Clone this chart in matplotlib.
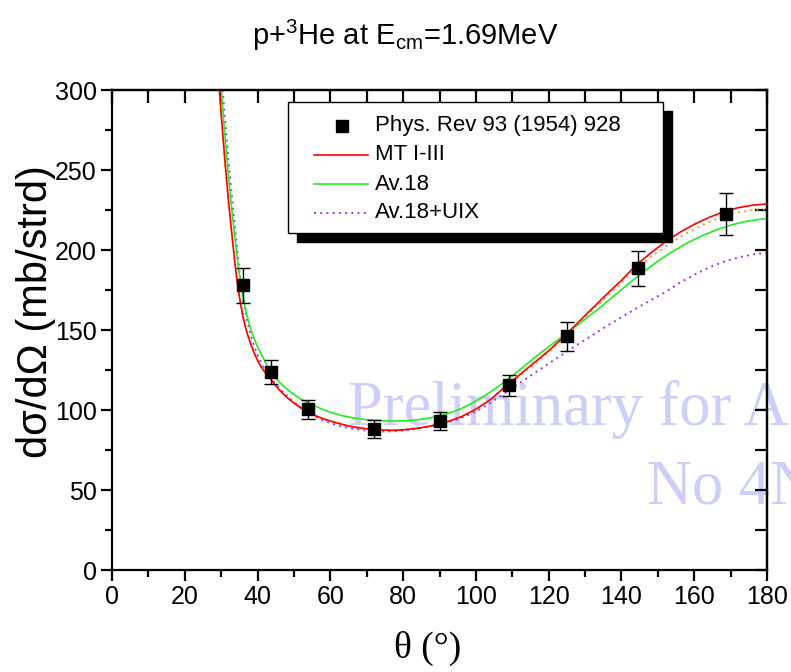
import matplotlib
matplotlib.use("Agg")
import matplotlib.pyplot as plt
from matplotlib.patches import Rectangle

# ---------------- data ----------------
exp_theta = [36, 43.7, 53.9, 72, 90, 109, 125, 144.5, 168.7]
exp_val   = [178, 124, 100.5, 88, 93, 115.5, 146, 188.5, 222.5]
exp_err   = [11, 7.5, 6, 5.5, 5.5, 6.5, 9, 11, 13]

# MT I-III
mt_theta = [29.5, 30, 31, 32, 33, 33.3, 34, 34.6, 35, 36, 37, 38, 39, 40, 41, 42, 43, 44,
            46, 48, 50, 52, 54, 56, 58, 60, 62, 65, 68, 71, 74, 77, 80, 84, 88, 92, 96,
            100, 104, 108, 112, 116, 120, 124, 128, 132, 136, 140, 144, 148, 152, 156,
            160, 164, 168, 172, 176, 180]
mt_val   = [300, 285, 256.5, 231, 208.5, 202, 187.5, 177, 171, 158, 149, 142, 136, 131,
            127, 123.8, 121, 118, 112.5, 108, 104.3, 101.2, 98.6, 96.4, 94.6, 93.1, 91.8,
            90, 88.8, 88, 87.5, 87.3, 87.6, 88.6, 90.2, 92.5, 95.8, 100.5, 106.5, 114.5,
            122, 129.5, 137, 145.5, 154.5, 163.5, 172.5, 181, 190.5, 198, 205, 211, 216,
            220.3, 223.8, 226.4, 228, 228.8]

# Av.18
av_theta = [30, 30.5, 31, 32, 33, 33.8, 34.5, 35, 36, 37, 38, 39, 40, 41, 42, 43, 44, 45,
            46, 47, 48, 50, 52, 54, 56, 58, 60, 63, 66, 69, 72, 75, 78, 81, 84, 87, 90,
            93, 96, 99, 102, 105, 108, 111, 114, 117, 120, 123, 126, 130, 134, 138, 142,
            146, 150, 154, 158, 162, 166, 170, 174, 178, 180]
av_val   = [300, 286, 272, 246, 223.5, 207, 193.5, 185, 171, 160, 151.5, 145, 139.5, 134.8,
            130.6, 125.5, 122.5, 119.8, 117.4, 115.2, 113.2, 109.7, 106.7, 104.2, 102.3,
            100.3, 98.6, 96.6, 95.2, 94.2, 93.6, 93.2, 93.1, 93.3, 93.9, 94.9, 96.3, 98.2,
            100.9, 104.3, 108.3, 112.8, 117.8, 123.2, 128.8, 134.3, 139.5, 144.6, 149.8,
            156.7, 163.8, 171.5, 179, 186.3, 193, 199, 204.3, 208.8, 212.5, 215.5, 217.8,
            219.2, 219.6]

# Av.18+UIX
uix_theta = [30.4, 31, 32, 33, 34, 34.6, 35.2, 36, 37, 38, 39, 40, 41, 42, 43, 44, 45, 46,
             47, 48, 50, 52, 54, 56, 58, 60, 63, 66, 69, 72, 75, 78, 81, 84, 87, 90, 93,
             96, 100, 104, 108, 112, 116, 120, 124, 128, 132, 136, 140, 144, 148, 152,
             156, 160, 164, 168, 172, 176, 180]
uix_val   = [300, 283, 256, 232, 209, 196, 183, 170, 157.5, 148, 140.5, 134.5, 129.5,
             125.5, 122, 119, 116.2, 113.6, 111.2, 109, 104.8, 101.2, 98.2, 95.6, 93.5,
             91.8, 89.8, 88.3, 87.3, 86.8, 86.6, 86.8, 87.4, 88.3, 89.5, 91, 92.8, 95, 99,
             104.5, 110.5, 116.8, 122.9, 129, 135, 141, 146.8, 152.5, 158, 163.4, 168.6,
             173.6, 179.5, 184.5, 189, 192.6, 195.3, 197.2, 198.3]

# unlabelled orange dotted curve
org_theta = [29.5, 30, 31, 32, 33, 33.3, 34, 34.6, 35, 36, 37, 38, 39, 40, 41, 42, 43, 44,
             46, 48, 50, 52, 54, 56, 58, 60, 62, 65, 68, 71, 74, 77, 80, 84, 88, 92, 96,
             100, 104, 108, 112, 116, 120, 124, 128, 132, 136, 140, 144, 148, 152, 156,
             160, 164, 168, 172, 176, 180]
org_val   = [300, 285, 256.5, 231, 208.5, 202, 187.5, 177, 171, 158, 149, 142, 136, 131,
             127, 123.8, 121, 118, 112.5, 108, 104.3, 101.2, 98.6, 96.4, 94.6, 93.1, 91.8,
             90, 88.8, 88, 87.5, 87.3, 87.6, 88.6, 90.2, 92.5, 95.8, 100.5, 106.5, 114,
             121, 128.5, 136, 144.5, 153.5, 162.5, 171, 179.5, 188.5, 195.5, 202, 208, 213,
             217.3, 221.2, 223.5, 225, 225.6]

legend_labels = ["Phys. Rev 93 (1954) 928", "MT I-III", "Av.18", "Av.18+UIX"]
title_text = r"p+$^{\mathrm{3}}$He at E$_{\mathrm{cm}}$=1.69MeV"
xlabel_text = "θ (°)"
ylabel_text = "dσ/dΩ (mb/strd)"

# ---------------- style ----------------
plt.rcParams["font.family"] = ["Liberation Sans", "DejaVu Sans"]
plt.rcParams["mathtext.fontset"] = "custom"
plt.rcParams["mathtext.rm"] = "Liberation Sans"
plt.rcParams["mathtext.it"] = "Liberation Sans:italic"

RED = "#ff0000"
GREEN = "#22ee22"
PURPLE = "#9933ff"
ORANGE = "#ff9933"

fig = plt.figure(figsize=(7.91, 6.72), dpi=100)
ax = fig.add_axes([112/791, 1-570/672, 655/791, 480/672])
ax.set_facecolor("none")

# watermark (behind the axes)
wm_color = "#ccd0f8"
fig.text(348/791, 1-425/672, "Preliminary for A", family="Liberation Serif",
         fontsize=45, color=wm_color, zorder=-1, va="baseline", ha="left")
fig.text(647/791, 1-503/672, "No 4N", family="Liberation Serif",
         fontsize=45, color=wm_color, zorder=-1, va="baseline", ha="left")

# curves
ax.plot(org_theta, org_val, color=ORANGE, ls=(0, (1, 2.2)), lw=1.4, zorder=2)
ax.plot(uix_theta, uix_val, color=PURPLE, ls=(0, (1, 2.2)), lw=1.4, zorder=2.2)
ax.plot(av_theta, av_val, color=GREEN, lw=1.2, zorder=2.4)
ax.plot(mt_theta, mt_val, color=RED, lw=1.2, zorder=2.6)

# data
ax.errorbar(exp_theta, exp_val, yerr=exp_err, fmt="s", color="black", ms=8.5,
            ecolor="black", elinewidth=1.0, capsize=5, capthick=1.0, zorder=3)

ax.set_xlim(0, 180)
ax.set_ylim(0, 300)
ax.set_xticks(range(0, 181, 20))
ax.set_xticks(range(0, 181, 10), minor=True)
ax.set_yticks(range(0, 301, 50))
ax.set_yticks(range(0, 301, 25), minor=True)
for s in ax.spines.values():
    s.set_linewidth(1.6)
ax.tick_params(axis="both", which="major", direction="out", length=8, width=1.6,
               labelsize=18, pad=3)
ax.tick_params(axis="both", which="minor", direction="out", length=5, width=1.6)

sx = ax.secondary_xaxis("top")
sx.set_xticks(range(0, 181, 10))
sx.tick_params(direction="in", length=9, width=1.6, labeltop=False)
sx.spines["top"].set_linewidth(1.6)
sy = ax.secondary_yaxis("right")
sy.set_yticks(range(0, 301, 25))
sy.tick_params(direction="in", length=9, width=1.6, labelright=False)
sy.spines["right"].set_linewidth(1.6)

ax.set_xlabel(xlabel_text, family="Liberation Serif", fontsize=27, va="top")
ax.xaxis.set_label_coords((428 - 112) / 655, (570 - 631) / 480)
ax.set_ylabel(ylabel_text, fontsize=30)
ax.yaxis.set_label_coords((56 - 112) / 655, (570 - 312) / 480)
fig.text(405/791, 1-35/672, title_text, fontsize=21, ha="center", va="center")

# legend (frame with solid offset shadow)
def ax_x(px):
    return (px - 112) / 655
def ax_y(py):
    return (570 - py) / 480

lx0, lx1, ly0, ly1 = ax_x(288), ax_x(663), ax_y(233), ax_y(102)
dx, dy = 9 / 655, 9 / 480
ax.add_patch(Rectangle((lx0 + dx, ly0 - dy), lx1 - lx0, ly1 - ly0, transform=ax.transAxes,
                       facecolor="black", edgecolor="black", zorder=5, clip_on=False))
ax.add_patch(Rectangle((lx0, ly0), lx1 - lx0, ly1 - ly0, transform=ax.transAxes,
                       facecolor="white", edgecolor="black", lw=1.0, zorder=5.1, clip_on=False))
rows = [ax_y(126), ax_y(155), ax_y(184), ax_y(213)]
hx0, hx1, hxm, tx = ax_x(314), ax_x(368), ax_x(342), ax_x(375)
ax.plot([hxm], [rows[0]], "s", color="black", ms=8.5, transform=ax.transAxes, zorder=6, clip_on=False)
ax.plot([hx0, hx1], [rows[1]] * 2, color=RED, lw=1.2, transform=ax.transAxes, zorder=6)
ax.plot([hx0, hx1], [rows[2]] * 2, color=GREEN, lw=1.2, transform=ax.transAxes, zorder=6)
ax.plot([hx0, hx1], [rows[3]] * 2, color=PURPLE, ls=(0, (1, 2.2)), lw=1.4,
        transform=ax.transAxes, zorder=6)
for r, lab in zip(rows, legend_labels):
    ax.text(tx, r, lab, transform=ax.transAxes, fontsize=16, va="center", ha="left", zorder=6)

fig.savefig("out.png", dpi=100)
